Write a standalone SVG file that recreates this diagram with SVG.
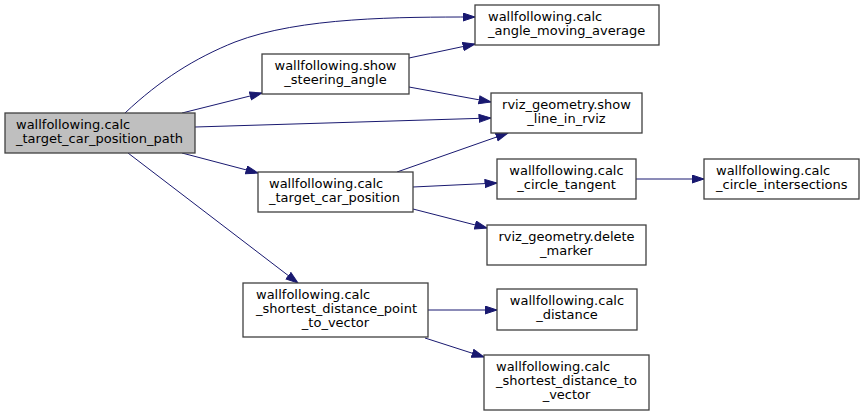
<svg xmlns="http://www.w3.org/2000/svg" width="865" height="417" viewBox="0 0 865 417">
<style>
.n rect{fill:#ffffff;stroke:#404040;stroke-width:1.3}
.n.root rect{fill:#bfbfbf}
text{font-family:"DejaVu Sans","Liberation Sans",sans-serif;font-size:13px;fill:#000}
.c{text-anchor:middle}
.e path{fill:none;stroke:#191970;stroke-width:1;marker-end:url(#a)}
</style>
<defs>
<marker id="a" markerUnits="userSpaceOnUse" markerWidth="14" markerHeight="10" refX="12.5" refY="4.5" orient="auto">
<path d="M0.5,0.5 L12.5,4.5 L0.5,8.5 z" fill="#191970" stroke="#191970" stroke-width="1"/>
</marker>
</defs>
<rect width="865" height="417" fill="#ffffff"/>
<g id="edges" class="e">
<path d="M125,113 C160,80 195,58 235,42 C300,17 400,17 475,17"/>
<path d="M182,113 L262,93"/>
<path d="M195,127 L491,118"/>
<path d="M182,153 L258,173"/>
<path d="M128,153 L298,283"/>
<path d="M409,58 L475,44"/>
<path d="M409,87 L491,102"/>
<path d="M397,172 L508,133"/>
<path d="M413,187 L497,183"/>
<path d="M413,209 L487,228"/>
<path d="M636,179 L704,179"/>
<path d="M428,310 L497,310"/>
<path d="M425,338 L484,357"/>
</g>
<g id="root" class="n root">
<rect x="5" y="113" width="190" height="40"/>
<text x="16" y="129">wallfollowing.calc</text>
<text x="16" y="143">_target_car_position_path</text>
</g>
<g id="angle_moving_average" class="n">
<rect x="475" y="5" width="184" height="40"/>
<text x="488" y="21">wallfollowing.calc</text>
<text x="488" y="35">_angle_moving_average</text>
</g>
<g id="show_steering_angle" class="n">
<rect x="262" y="54" width="147" height="40"/>
<text class="c" x="335.5" y="70">wallfollowing.show</text>
<text class="c" x="335.5" y="84">_steering_angle</text>
</g>
<g id="show_line_in_rviz" class="n">
<rect x="491" y="93" width="151" height="40"/>
<text class="c" x="566.5" y="109">rviz_geometry.show</text>
<text class="c" x="566.5" y="123">_line_in_rviz</text>
</g>
<g id="target_car_position" class="n">
<rect x="258" y="172" width="155" height="40"/>
<text x="269" y="188">wallfollowing.calc</text>
<text x="269" y="202">_target_car_position</text>
</g>
<g id="circle_tangent" class="n">
<rect x="497" y="159" width="139" height="40"/>
<text class="c" x="566.5" y="175">wallfollowing.calc</text>
<text class="c" x="566.5" y="189">_circle_tangent</text>
</g>
<g id="delete_marker" class="n">
<rect x="487" y="225" width="159" height="40"/>
<text class="c" x="566.5" y="241">rviz_geometry.delete</text>
<text class="c" x="566.5" y="255">_marker</text>
</g>
<g id="circle_intersections" class="n">
<rect x="704" y="159" width="155" height="40"/>
<text x="716" y="175">wallfollowing.calc</text>
<text x="716" y="189">_circle_intersections</text>
</g>
<g id="shortest_distance_point_to_vector" class="n">
<rect x="243" y="283" width="185" height="54"/>
<text x="256" y="299">wallfollowing.calc</text>
<text x="256" y="313">_shortest_distance_point</text>
<text class="c" x="335.5" y="327">_to_vector</text>
</g>
<g id="calc_distance" class="n">
<rect x="497" y="289" width="140" height="41"/>
<text class="c" x="567" y="305">wallfollowing.calc</text>
<text class="c" x="567" y="319">_distance</text>
</g>
<g id="shortest_distance_to_vector" class="n">
<rect x="484" y="355" width="165" height="55"/>
<text x="496" y="371">wallfollowing.calc</text>
<text x="496" y="385">_shortest_distance_to</text>
<text class="c" x="566.5" y="399">_vector</text>
</g>
</svg>
